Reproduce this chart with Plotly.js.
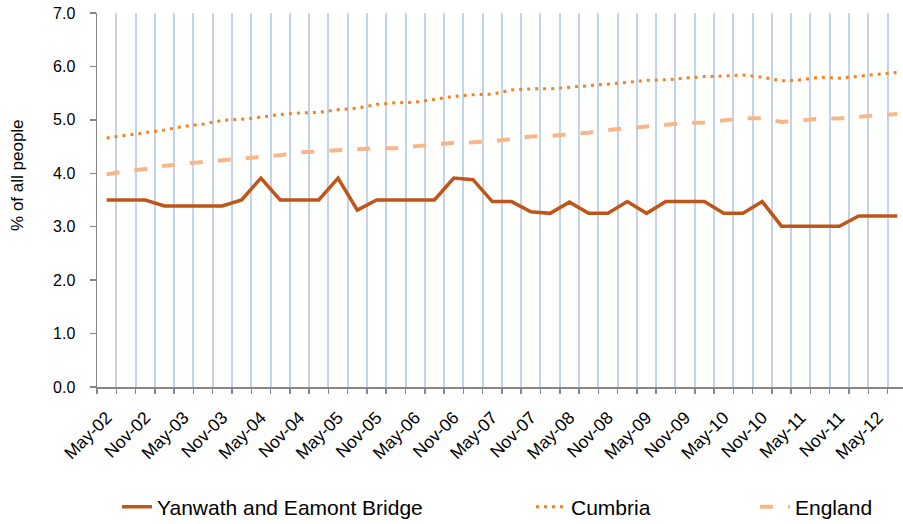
<!DOCTYPE html>
<html><head><meta charset="utf-8">
<script src="https://cdn.plot.ly/plotly-3.0.1.min.js"></script>
<style>html,body{margin:0;padding:0;background:#fff}#chart{width:903px;height:524px}</style>
</head><body><div id="chart"></div>
<script>
const quarters = ['May-02','Aug-02','Nov-02','Feb-03','May-03','Aug-03','Nov-03','Feb-04','May-04','Aug-04','Nov-04','Feb-05','May-05','Aug-05','Nov-05','Feb-06','May-06','Aug-06','Nov-06','Feb-07','May-07','Aug-07','Nov-07','Feb-08','May-08','Aug-08','Nov-08','Feb-09','May-09','Aug-09','Nov-09','Feb-10','May-10','Aug-10','Nov-10','Feb-11','May-11','Aug-11','Nov-11','Feb-12','May-12','Aug-12'];
const shownTickLabels = ['May-02','Nov-02','May-03','Nov-03','May-04','Nov-04','May-05','Nov-05','May-06','Nov-06','May-07','Nov-07','May-08','Nov-08','May-09','Nov-09','May-10','Nov-10','May-11','Nov-11','May-12'];
const yanwath = [3.50,3.50,3.50,3.39,3.39,3.39,3.39,3.50,3.91,3.50,3.50,3.50,3.91,3.31,3.50,3.50,3.50,3.50,3.91,3.88,3.47,3.47,3.28,3.25,3.46,3.25,3.25,3.47,3.25,3.47,3.47,3.47,3.25,3.25,3.47,3.01,3.01,3.01,3.01,3.20,3.20,3.20];
const cumbria = [4.66,4.71,4.76,4.81,4.88,4.92,4.99,5.01,5.05,5.10,5.13,5.14,5.19,5.22,5.29,5.32,5.33,5.39,5.44,5.47,5.48,5.56,5.58,5.58,5.61,5.63,5.66,5.70,5.74,5.75,5.78,5.81,5.82,5.84,5.80,5.73,5.75,5.80,5.78,5.82,5.85,5.89];
const england = [3.98,4.04,4.08,4.14,4.18,4.21,4.25,4.28,4.31,4.34,4.39,4.41,4.43,4.46,4.47,4.47,4.50,4.53,4.57,4.58,4.60,4.64,4.69,4.70,4.73,4.76,4.81,4.84,4.88,4.91,4.94,4.95,4.99,5.03,5.03,4.96,4.99,5.02,5.03,5.06,5.08,5.11];
const seriesNames = ['Yanwath and Eamont Bridge','Cumbria','England'];
const yTitle = '% of all people';

const tickText = quarters.map(q => shownTickLabels.includes(q) ? q : '');
const font = 'Liberation Sans, Arial, sans-serif';

const traces = [
  {x: quarters, y: yanwath, name: seriesNames[0], type: 'scatter', mode: 'lines',
   line: {color: '#BF5518', width: 3.5}, legend: 'legend'},
  {x: quarters, y: cumbria, name: seriesNames[1], type: 'scatter', mode: 'lines',
   line: {color: '#F5821F', width: 3, dash: '3px,5px'}, legend: 'legend2'},
  {x: quarters, y: england, name: seriesNames[2], type: 'scatter', mode: 'lines',
   line: {color: '#FAB687', width: 4, dash: '13px,15px'}, legend: 'legend3'}
];

const legBase = {orientation: 'h', xref: 'container', yref: 'container', xanchor: 'left', yanchor: 'middle',
  y: 1 - 507/524, font: {family: font, size: 21, color: '#000'}, bgcolor: 'rgba(0,0,0,0)'};

const layout = {
  width: 903, height: 524,
  margin: {l: 97, r: 0, t: 13, b: 137},
  paper_bgcolor: '#fff', plot_bgcolor: '#fff',
  font: {family: font, size: 16, color: '#000'},
  showlegend: true,
  legend: Object.assign({}, legBase, {x: 117/903}),
  legend2: Object.assign({}, legBase, {x: 531/903}),
  legend3: Object.assign({}, legBase, {x: 755/903}),
  xaxis: {
    type: 'category', range: [-0.5, 41.3], autorange: false,
    tickmode: 'array', tickvals: quarters, ticktext: tickText,
    tickson: 'boundaries', ticks: 'outside', ticklen: 5, tickwidth: 1.5, tickcolor: '#868686',
    showline: true, linecolor: '#868686', linewidth: 1.5,
    showgrid: true, gridcolor: '#C2D4EA', gridwidth: 2,
    tickangle: -45, ticklabelstandoff: 12, tickfont: {family: font, size: 17.5, color: '#000'},
    zeroline: false, fixedrange: true
  },
  yaxis: {
    range: [0, 7], autorange: false, dtick: 1, tick0: 0, tickformat: '.1f',
    ticks: 'outside', ticklen: 6, tickwidth: 1.5, tickcolor: '#868686',
    showline: true, linecolor: '#868686', linewidth: 1.5,
    showgrid: false, zeroline: false, ticklabelstandoff: 11,
    tickfont: {family: font, size: 16, color: '#000'}, fixedrange: true
  },
  annotations: [{
    text: yTitle, xref: 'paper', yref: 'paper', x: (18-97)/806, y: (386.7-175)/373.4,
    xanchor: 'center', yanchor: 'middle', textangle: -90, showarrow: false,
    font: {family: font, size: 17, color: '#000'}
  }]
};

Plotly.newPlot('chart', traces, layout, {displayModeBar: false, staticPlot: true});
</script>
</body></html>
